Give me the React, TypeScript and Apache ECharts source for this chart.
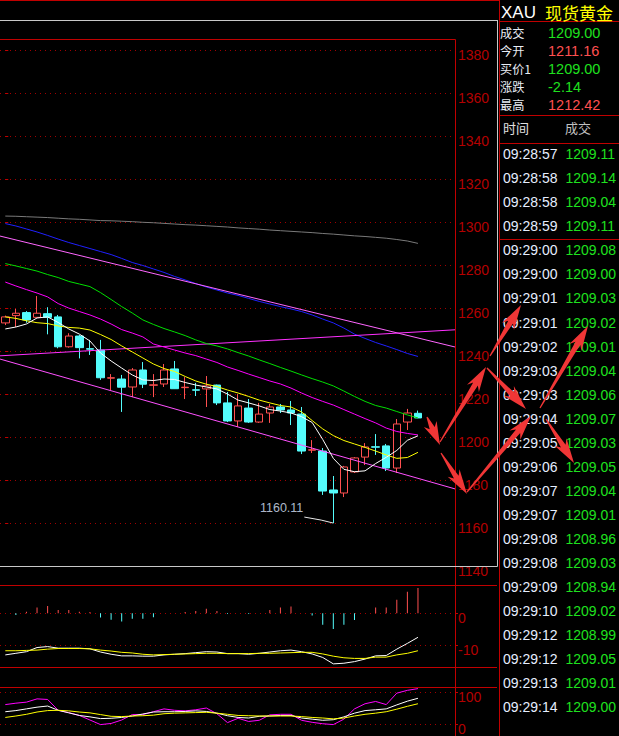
import React, { useEffect, useRef } from 'react';
import * as echarts from 'echarts';

// ---------- DATA ----------
// candles: [open, close, low, high]
const candles: number[][] = [
  [1253.2, 1256.0, 1252.2, 1256.6], [1256.6, 1257.7, 1251.3, 1259.7], [1258.0, 1254.6, 1253.3, 1258.7],
  [1255.8, 1257.7, 1255.6, 1265.7], [1257.5, 1255.8, 1247.9, 1260.5], [1256.0, 1242.1, 1241.4, 1256.9],
  [1242.1, 1247.1, 1241.7, 1248.4], [1247.1, 1241.7, 1236.7, 1247.6], [1241.2, 1241.0, 1238.3, 1245.3],
  [1240.6, 1227.7, 1226.7, 1245.3], [1227.5, 1227.7, 1222.0, 1229.4], [1227.1, 1223.3, 1211.8, 1229.0],
  [1223.4, 1231.3, 1218.7, 1232.2], [1231.3, 1224.7, 1222.9, 1235.0], [1224.2, 1224.4, 1218.7, 1229.4],
  [1224.8, 1231.3, 1223.4, 1234.1], [1231.8, 1222.6, 1222.5, 1235.5], [1223.1, 1223.3, 1217.8, 1228.0],
  [1222.1, 1221.9, 1219.2, 1225.3], [1222.5, 1223.9, 1214.1, 1228.5], [1224.3, 1216.0, 1215.0, 1224.5],
  [1216.0, 1207.6, 1207.1, 1221.1], [1207.6, 1214.6, 1204.8, 1220.1], [1213.6, 1207.1, 1206.7, 1217.8],
  [1207.1, 1210.8, 1206.7, 1216.0], [1211.3, 1214.1, 1206.7, 1215.5], [1214.1, 1212.7, 1211.3, 1215.5],
  [1212.7, 1211.3, 1205.7, 1216.9], [1210.8, 1193.6, 1192.2, 1214.1], [1194.0, 1194.2, 1192.7, 1198.7],
  [1193.6, 1175.0, 1173.2, 1195.0], [1175.5, 1174.1, 1160.11, 1182.0], [1174.1, 1186.2, 1172.2, 1186.7],
  [1183.9, 1190.4, 1183.4, 1190.8], [1190.8, 1195.5, 1187.1, 1197.3], [1195.6, 1195.4, 1191.8, 1201.5],
  [1196.0, 1185.7, 1184.3, 1196.9], [1185.7, 1206.2, 1183.4, 1208.5], [1207.1, 1211.3, 1203.4, 1213.2],
  [1211.16, 1209.0, 1208.9, 1212.42],
];
const emptySlots = 3;
const categories = Array.from({ length: candles.length + emptySlots }, (_, i) => String(i + 1));

const ma5 = [1250.4, 1251.3, 1252.7, 1255.5, 1256.0, 1253.4, 1250.4, 1248.0, 1244.8, 1239.2, 1235.5, 1232.2, 1229.0, 1226.7, 1226.4, 1227.1, 1226.9, 1225.5, 1224.3, 1223.4, 1222.5, 1220.1, 1217.3, 1216.0, 1214.6, 1212.9, 1212.2, 1211.3, 1209.6, 1206.9, 1199.0, 1190.2, 1185.1, 1184.0, 1184.4, 1187.8, 1190.7, 1193.9, 1198.6, 1200.7];
const ma10 = [1256.0, 1255.3, 1254.2, 1253.3, 1252.9, 1251.8, 1251.1, 1250.8, 1249.9, 1247.8, 1245.5, 1242.5, 1239.7, 1236.9, 1234.1, 1232.0, 1230.6, 1228.3, 1226.2, 1224.7, 1223.6, 1222.0, 1220.6, 1219.0, 1217.3, 1216.0, 1214.8, 1214.1, 1211.8, 1207.8, 1203.9, 1200.8, 1198.5, 1196.9, 1195.3, 1193.6, 1191.8, 1190.2, 1190.6, 1193.0];
const ma20 = [1280.8, 1279.7, 1278.5, 1277.3, 1275.7, 1274.3, 1272.5, 1271.3, 1270.1, 1267.3, 1264.1, 1260.8, 1257.8, 1254.6, 1252.5, 1250.6, 1249.0, 1247.3, 1245.3, 1243.6, 1242.5, 1241.1, 1239.4, 1237.8, 1236.0, 1234.3, 1232.5, 1230.8, 1229.0, 1227.3, 1225.7, 1223.9, 1221.5, 1219.0, 1216.7, 1214.8, 1213.6, 1212.0, 1210.4, 1209.0];
const ma30 = [1272.2, 1270.4, 1268.7, 1267.1, 1265.3, 1262.2, 1260.1, 1258.5, 1256.9, 1255.0, 1252.7, 1250.1, 1248.5, 1246.7, 1243.4, 1242.0, 1240.6, 1239.2, 1238.0, 1236.4, 1234.8, 1232.7, 1231.1, 1229.4, 1227.8, 1226.2, 1224.8, 1222.9, 1220.6, 1218.5, 1216.7, 1215.0, 1212.9, 1210.8, 1208.7, 1206.7, 1204.3, 1202.7, 1201.8, 1201.1];
const ma60 = [1299.4, 1298.3, 1296.9, 1295.5, 1293.9, 1292.2, 1290.6, 1289.2, 1287.8, 1286.4, 1285.0, 1283.2, 1281.3, 1279.9, 1278.3, 1276.7, 1274.8, 1273.2, 1271.5, 1269.9, 1268.5, 1267.1, 1266.0, 1264.6, 1263.2, 1262.0, 1260.8, 1259.7, 1258.5, 1256.9, 1255.0, 1253.2, 1250.8, 1248.0, 1246.0, 1244.1, 1242.5, 1240.8, 1239.0, 1237.6];
const ma120 = [1302.9, 1302.8, 1302.6, 1302.4, 1302.2, 1301.9, 1301.6, 1301.4, 1301.1, 1300.8, 1300.7, 1300.5, 1300.3, 1300.0, 1299.8, 1299.5, 1299.2, 1298.9, 1298.7, 1298.4, 1298.1, 1297.8, 1297.4, 1297.1, 1296.8, 1296.4, 1296.1, 1295.8, 1295.5, 1295.2, 1294.8, 1294.5, 1294.1, 1293.7, 1293.4, 1293.0, 1292.6, 1292.0, 1291.3, 1290.2];

// drawn trend lines: [slot position, price]
const upperChannel = [[-0.5, 1293.6], [42.5, 1242.0]];
const lowerChannel = [[-0.5, 1236.4], [42.5, 1176.0]];
const risingLine = [[-0.5, 1237.9], [42.5, 1250.0]];
const lowLeader = [[28.26, 1162.9], [29.85, 1161.5], [31, 1160.11]];

const macdHist = [0, -0.5, 0.5, 1.8, 2.3, 1.0, 1.0, 0.5, 0.4, -1.35, -2.0, -2.6, -1.7, -1.7, -1.25, 0, 0, 0.4, 0.7, 1.4, 0.7, -0.2, 0, -0.2, 0, 1.0, 1.8, 2.1, 0, -0.7, -3.6, -4.9, -3.6, -2.1, 0, 1.8, 1.8, 4.2, 6.7, 7.9];
const macdDif = [-13.0, -12.5, -12.0, -10.7, -10.4, -10.9, -10.9, -10.9, -11.1, -12.1, -12.8, -13.3, -13.3, -13.4, -13.4, -13.0, -12.8, -12.6, -12.3, -12.0, -12.1, -12.6, -12.6, -12.8, -12.5, -12.1, -11.7, -11.5, -12.0, -12.7, -13.8, -15.8, -15.6, -15.1, -14.3, -13.3, -13.2, -11.2, -9.4, -7.5];
const macdDea = [-11.7, -11.7, -11.6, -11.5, -11.2, -11.0, -11.0, -11.0, -11.1, -11.5, -11.8, -12.2, -12.4, -12.8, -13.0, -12.9, -12.8, -12.7, -12.6, -12.5, -12.5, -12.6, -12.6, -12.6, -12.5, -12.5, -12.4, -12.3, -12.2, -12.2, -12.7, -13.4, -13.9, -14.1, -14.1, -13.7, -13.7, -13.0, -12.5, -11.7];

const kdjK = [38.7, 42.3, 47.7, 53.1, 56.7, 43.2, 35.1, 27.0, 22.5, 17.1, 18.0, 20.7, 25.2, 31.5, 37.8, 38.7, 38.7, 39.6, 41.4, 39.6, 34.2, 26.1, 20.7, 18.9, 24.3, 25.2, 27.0, 27.0, 18.9, 15.3, 11.7, 13.5, 22.5, 34.2, 42.3, 44.9, 47.7, 60.3, 72.0, 81.1];
const kdjD = [20.7, 25.2, 30.6, 37.8, 42.3, 43.2, 41.4, 37.8, 35.1, 29.7, 24.3, 23.4, 25.2, 26.1, 27.9, 32.4, 34.2, 35.1, 36.0, 36.9, 34.2, 30.6, 27.0, 26.1, 25.2, 25.2, 25.2, 25.2, 23.4, 20.7, 18.9, 16.2, 18.9, 25.2, 30.6, 34.2, 38.7, 46.8, 55.8, 63.9];
const kdjJ = [61.2, 65.7, 69.0, 79.3, 77.4, 43.2, 36.0, 27.0, 12.6, -1.9, 1.7, 12.6, 29.7, 29.7, 38.7, 47.7, 43.2, 41.4, 44.9, 50.4, 32.4, 4.4, 18.0, 8.0, 11.7, 28.8, 30.6, 30.6, 11.7, 5.3, 0.8, -1.9, 15.3, 47.7, 63.9, 71.1, 61.2, 97.3, 106.2, 111.6];

const symbolCode = 'XAU';
const symbolName = '现货黄金';
const prevClose = 1211.14;
const quoteLabels = ['成交', '今开', '买价1', '涨跌', '最高'];
const quoteValues = [1209.0, 1211.16, 1209.0, -2.14, 1212.42];
const tickTimes = ['09:28:57', '09:28:58', '09:28:58', '09:28:59', '09:29:00', '09:29:00', '09:29:01', '09:29:01', '09:29:02', '09:29:03', '09:29:03', '09:29:04', '09:29:05', '09:29:06', '09:29:07', '09:29:07', '09:29:08', '09:29:08', '09:29:09', '09:29:10', '09:29:12', '09:29:12', '09:29:13', '09:29:14'];
const tickPrices = [1209.11, 1209.14, 1209.04, 1209.11, 1209.08, 1209.0, 1209.03, 1209.02, 1209.01, 1209.04, 1209.06, 1209.07, 1209.03, 1209.05, 1209.04, 1209.01, 1208.96, 1209.03, 1208.94, 1209.02, 1208.99, 1209.05, 1209.01, 1209.0];

// ---------- STYLE ----------
const UP = '#ff5050';
const DOWN = '#54fcfc';
const FRAME = '#c00000';
const DOT = '#a00000';
const LBL = '#b40000';
const GRAY = '#c8c8c8';
const GREEN = '#1fe01f';
const ARROW = '#f03636';
const NUM_FONT = '"Liberation Sans", Arial, sans-serif';
const CJK_FONT = '"Noto Sans CJK SC", sans-serif';

function arrowPoints(x1: number, y1: number, x2: number, y2: number) {
  const dx = x2 - x1, dy = y2 - y1;
  const L = Math.hypot(dx, dy);
  const ux = dx / L, uy = dy / L, px = -uy, py = ux;
  const hl = Math.min(25, L * 0.75);
  const headW = 14, neckW = 5.5, tailW = 1.2;
  const bx = x2 - ux * hl, by = y2 - uy * hl;
  const nx = x2 - ux * hl * 0.8, ny = y2 - uy * hl * 0.8;
  return [
    [x1 + (px * tailW) / 2, y1 + (py * tailW) / 2],
    [nx + (px * neckW) / 2, ny + (py * neckW) / 2],
    [bx + (px * headW) / 2, by + (py * headW) / 2],
    [x2, y2],
    [bx - (px * headW) / 2, by - (py * headW) / 2],
    [nx - (px * neckW) / 2, ny - (py * neckW) / 2],
    [x1 - (px * tailW) / 2, y1 - (py * tailW) / 2],
  ];
}

const arrows = [
  [427, 417, 440, 445],
  [440, 442, 486, 367],
  [487, 368, 526, 409],
  [490, 356, 521, 305],
  [441, 453, 467, 494],
  [467, 492, 531, 416],
  [540, 408, 588, 326],
  [546, 419, 574, 463],
];

function hline(x1: number, x2: number, y: number, color: string) {
  return { type: 'line', silent: true, z: 50, shape: { x1, y1: y, x2, y2: y }, style: { stroke: color, lineWidth: 1 } };
}
function vline(x: number, y1: number, y2: number, color: string) {
  return { type: 'line', silent: true, z: 50, shape: { x1: x, y1, x2: x, y2 }, style: { stroke: color, lineWidth: 1 } };
}
function txt(x: number, y: number, text: string, fill: string, size: number, family: string) {
  return {
    type: 'text', x, y, silent: true, z: 60,
    style: { text, fill, fontSize: size, fontFamily: family, lineHeight: size + 1, verticalAlign: 'middle', align: 'left' },
  };
}

function buildOption() {
  const lowVal = Math.min(...candles.map((c) => c[2]));
  const lineS = (name: string, data: number[], color: string, xi = 0, yi = 0) => ({
    name, type: 'line', data, xAxisIndex: xi, yAxisIndex: yi, symbol: 'none', silent: true,
    lineStyle: { color, width: 1 }, clip: false,
  });
  const segS = (name: string, data: number[][], color: string) => ({
    name, type: 'line', data, xAxisIndex: 1, yAxisIndex: 0, symbol: 'none', silent: true,
    lineStyle: { color, width: 1 }, clip: true,
  });

  const graphic: any[] = [
    hline(0, 499, 0.5, FRAME),
    vline(499.5, 0, 736, FRAME),
    hline(0, 497.5, 20.5, GRAY),
    vline(497.5, 20, 566.5, GRAY),
    hline(0, 455.5, 39.5, FRAME),
    vline(455.5, 39.5, 736, FRAME),
    hline(0, 497.5, 566.5, GRAY),
    hline(0, 497, 585.5, FRAME),
    hline(0, 497, 667.5, FRAME),
    hline(0, 497, 687.5, FRAME),
    hline(499, 619, 21.5, FRAME),
    hline(499, 619, 115.5, FRAME),
    hline(499, 619, 143.5, FRAME),
    hline(499, 619, 239.5, FRAME),
    txt(501, 12, symbolCode, '#ffffff', 17, NUM_FONT),
    txt(545, 12, symbolName, '#ffff00', 17, CJK_FONT),
    txt(503, 127, '时间', '#e0e0e0', 13, CJK_FONT),
    txt(565, 127, '成交', '#c0c0c0', 13, CJK_FONT),
  ];
  quoteLabels.forEach((l, i) => {
    const y = 33.3 + i * 17.8;
    graphic.push(txt(500, y, l, '#e8ecf4', 12.2, CJK_FONT));
    const v = quoteValues[i];
    const isChange = i === 3;
    const up = isChange ? v > 0 : v > prevClose;
    graphic.push(txt(548, y, v.toFixed(2), up ? UP : GREEN, 14.5, NUM_FONT));
  });
  tickTimes.forEach((t, i) => {
    const y = 154.3 + i * 24.03;
    graphic.push(txt(503, y, t, '#e6eeff', 14, NUM_FONT));
    graphic.push(txt(565.5, y, tickPrices[i].toFixed(2), tickPrices[i] > prevClose ? UP : GREEN, 14, NUM_FONT));
  });
  arrows.forEach((a) => {
    graphic.push({ type: 'polygon', silent: true, z: 100, shape: { points: arrowPoints(a[0], a[1], a[2], a[3]) }, style: { fill: ARROW } });
  });

  const yLabel = {
    color: LBL, fontSize: 14, fontFamily: NUM_FONT, margin: 3, verticalAlign: 'top', lineHeight: 10,
    formatter: (v: number) => String(v),
  };
  const split = { show: true, lineStyle: { color: DOT, type: [1, 4], width: 1 } };

  return {
    backgroundColor: '#000000',
    animation: false,
    grid: [
      { left: -4, right: 164, top: 50.3, height: 516 },
      { left: -4, right: 164, top: 581.3, height: 96 },
      { left: -4, right: 164, top: 692.3, height: 37 },
    ],
    xAxis: [
      { type: 'category', gridIndex: 0, data: categories, boundaryGap: true, show: false },
      { type: 'value', gridIndex: 0, min: -0.5, max: 42.5, show: false },
      { type: 'category', gridIndex: 1, data: categories, boundaryGap: true, show: false },
      { type: 'category', gridIndex: 2, data: categories, boundaryGap: true, show: false },
    ],
    yAxis: [
      {
        type: 'value', gridIndex: 0, position: 'right', min: 1140, max: 1380, interval: 20,
        axisLine: { show: false }, axisTick: { show: true, length: 3, lineStyle: { color: FRAME } },
        axisLabel: yLabel, splitLine: { ...split, showMinLine: false },
      },
      {
        type: 'value', gridIndex: 1, position: 'right', min: -20, max: 10, interval: 10,
        axisLine: { show: false }, axisTick: { show: true, length: 3, lineStyle: { color: FRAME } },
        axisLabel: { ...yLabel, showMinLabel: false, showMaxLabel: false },
        splitLine: { ...split, showMinLine: false, showMaxLine: false },
      },
      {
        type: 'value', gridIndex: 2, position: 'right', min: 0, max: 100, interval: 100,
        axisLine: { show: false }, axisTick: { show: true, length: 3, lineStyle: { color: FRAME } },
        axisLabel: yLabel, splitLine: split,
      },
    ],
    series: [
      lineS('MA120', ma120, '#7a7a7a'),
      lineS('MA60', ma60, '#2020ff'),
      segS('upper', upperChannel, '#ff66ff'),
      segS('rising', risingLine, '#ff30ff'),
      segS('lower', lowerChannel, '#ff50ff'),
      lineS('MA30', ma30, '#ff00ff'),
      lineS('MA20', ma20, '#00e000'),
      lineS('MA10', ma10, '#ffff00'),
      lineS('MA5', ma5, '#ffffff'),
      {
        name: 'K', type: 'candlestick', xAxisIndex: 0, yAxisIndex: 0, data: candles, barWidth: 8, silent: true,
        itemStyle: { color: '#000000', borderColor: UP, color0: DOWN, borderColor0: DOWN, borderWidth: 1 },
      },
      {
        name: 'lowLeader', type: 'line', xAxisIndex: 1, yAxisIndex: 0, data: lowLeader, symbol: 'none', silent: true,
        lineStyle: { color: '#e8e8e8', width: 1 },
      },
      {
        name: 'lowLabel', type: 'scatter', xAxisIndex: 1, yAxisIndex: 0, data: [lowLeader[0]], symbolSize: 0, silent: true,
        label: {
          show: true, position: 'left', distance: 1, offset: [0, -9], formatter: lowVal.toFixed(2),
          color: '#dde8ff', fontSize: 12.5, fontFamily: NUM_FONT,
        },
      },
      {
        name: 'MACD', type: 'bar', xAxisIndex: 2, yAxisIndex: 1, barWidth: 1, silent: true,
        data: macdHist.map((v) => ({ value: v, itemStyle: { color: v >= 0 ? UP : DOWN } })),
      },
      lineS('DIF', macdDif, '#ffffff', 2, 1),
      lineS('DEA', macdDea, '#ffff00', 2, 1),
      lineS('J', kdjJ, '#ff00ff', 3, 2),
      lineS('K', kdjK, '#ffffff', 3, 2),
      lineS('D', kdjD, '#ffff00', 3, 2),
    ],
    graphic,
  };
}

export default function App() {
  const ref = useRef<HTMLDivElement>(null);
  useEffect(() => {
    document.body.style.margin = '0';
    document.body.style.background = '#000';
    const chart = echarts.init(ref.current as HTMLDivElement, null, { renderer: 'svg' });
    chart.setOption(buildOption() as any);
    return () => chart.dispose();
  }, []);
  return <div ref={ref} style={{ position: 'fixed', left: 0, top: 0, width: 619, height: 736, background: '#000' }} />;
}
